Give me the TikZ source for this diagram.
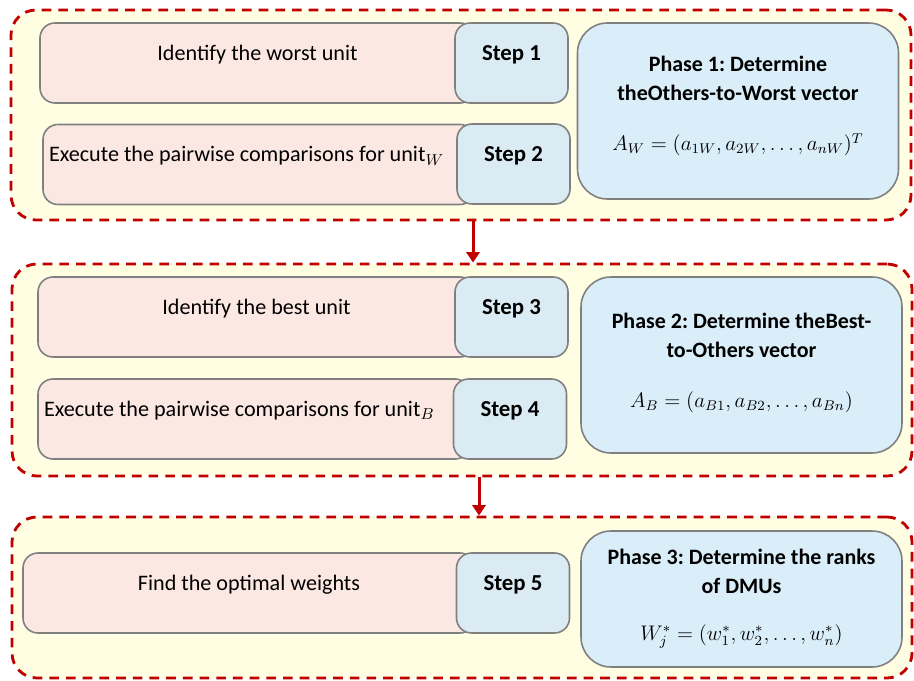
\documentclass[tikz,border=0pt]{standalone}
\usepackage{fontspec}
\setmainfont{Carlito}
\usepackage{tikz}
\usetikzlibrary{arrows.meta, positioning}
\usepackage{xcolor}
\usepackage{amsmath}
\definecolor{YL}{RGB}{255,253,226}
\definecolor{PK}{RGB}{252,232,227}
\definecolor{LB}{RGB}{218,238,249}
\definecolor{SB}{RGB}{219,235,243}
\definecolor{GR}{RGB}{128,128,128}
\definecolor{DR}{RGB}{192,0,0}
\frenchspacing

\begin{document}
\begin{tikzpicture}[
  grp/.style={draw=DR, line width=1.6pt, dash pattern=on 5.5pt off 4pt, fill=YL,
              rounded corners=0.5cm, minimum width=18.0cm, minimum height=#1},
  row/.style={draw=GR, line width=0.9pt, fill=PK, rounded corners=0.3cm,
              minimum width=#1, minimum height=1.6cm, text depth=0.42cm,
              align=center, font=\fontsize{12.6}{15}\selectfont},
  wide/.style={align=flush left, text width=8.4cm, inner xsep=0.1cm},
  stp/.style={draw=GR, line width=0.9pt, fill=SB, rounded corners=0.3cm,
              minimum width=2.26cm, minimum height=1.6cm, text depth=0.4cm,
              font=\fontsize{13}{15}\selectfont\bfseries},
  phs/.style={draw=GR, line width=0.9pt, fill=LB, rounded corners=0.6cm,
              minimum width=6.42cm, minimum height=#1, align=center,
              font=\fontsize{12.5}{16.5}\selectfont\bfseries},
  flow/.style={draw=DR, line width=1.7pt, -{Triangle[length=6pt,width=7.5pt]}}
]
\useasboundingbox (0,0) rectangle (18.28,-13.6);

% Dashed phase groups
\node[grp=4.2cm]  (g1) at (9.22,-2.30)  {};
\node[grp=4.24cm] (g2) at (9.24,-7.40)  {};
\node[grp=3.22cm] (g3) at (9.24,-11.95) {};

% Phase 1
\node[row=8.7cm]  (r1) at (5.15,-1.26) {Identify the worst unit};
\node[row=8.64cm, wide] (r2) at (5.18,-3.29) {Execute the pairwise comparisons for $\mathrm{unit}_W$};
\node[stp] (s1) at (10.23,-1.26) {Step 1};
\node[stp] (s2) at (10.27,-3.28) {Step 2};
\node[phs=3.52cm, text depth=0.3cm] (p1) at (14.76,-2.22)
  {Phase 1: Determine\\ theOthers-to-Worst vector\\[12pt]
   \mdseries\large $A_W=(a_{1W},a_{2W},\dots,a_{nW})^T$};

% Phase 2
\node[row=8.74cm] (r3) at (5.13,-6.34) {Identify the best unit};
\node[row=8.64cm, wide] (r4) at (5.08,-8.38) {Execute the pairwise comparisons for $\mathrm{unit}_B$};
\node[stp] (s3) at (10.23,-6.34) {Step 3};
\node[stp] (s4) at (10.20,-8.38) {Step 4};
\node[phs=3.52cm, text depth=0.2cm] (p2) at (14.83,-7.30)
  {Phase 2: Determine theBest-\\ to-Others vector\\[12pt]
   \mdseries\large $A_B=(a_{B1},a_{B2},\dots,a_{Bn})$};

% Phase 3
\node[row=9.04cm] (r5) at (4.98,-11.86) {Find the optimal weights};
\node[stp] (s5) at (10.26,-11.86) {Step 5};
\node[phs=2.72cm] (p3) at (14.83,-11.98)
  {Phase 3: Determine the ranks\\ of DMUs\\[10pt]
   \mdseries\large $W_j^*=(w_1^*,w_2^*,\dots,w_n^*)$};

% Flow between phases
\draw[flow] ([xshift=0.24cm]g1.south) -- ([xshift=0.22cm]g2.north);
\draw[flow] ([xshift=0.34cm]g2.south) -- ([xshift=0.34cm]g3.north);
\end{tikzpicture}
\end{document}
